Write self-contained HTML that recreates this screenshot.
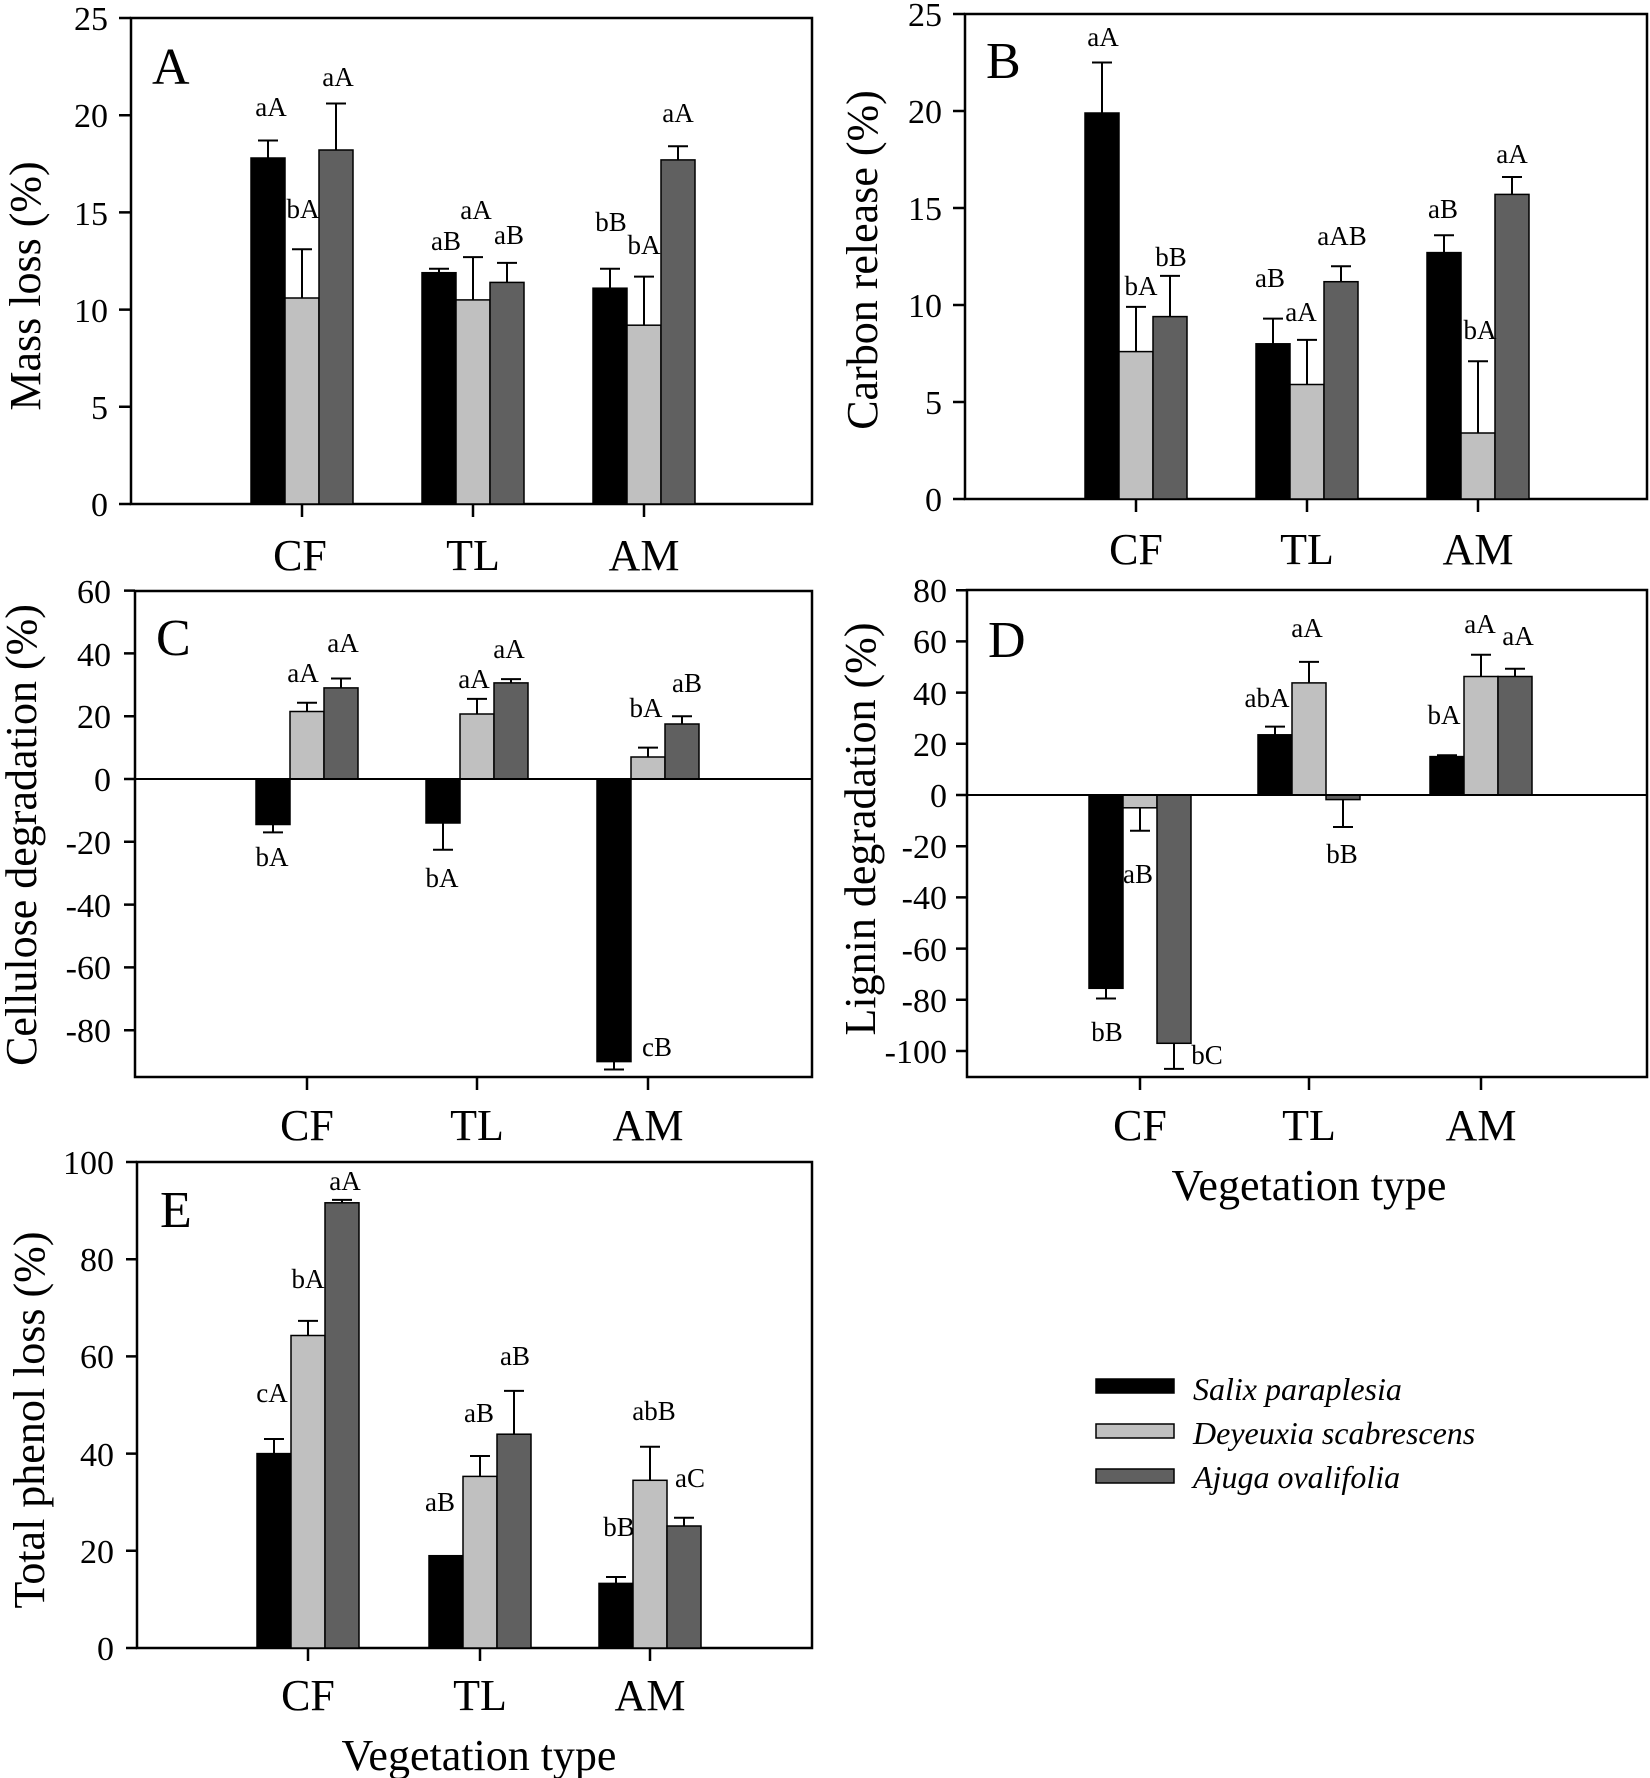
<!DOCTYPE html>
<html><head><meta charset="utf-8"><style>
html,body{margin:0;padding:0;background:#fff}
svg{display:block}
text{font-family:"Liberation Serif",serif;fill:#000}
.t{font-size:34px;text-anchor:end}
.c{font-size:44px;text-anchor:middle}
.n{font-size:27px;text-anchor:middle}
.p{font-size:52px}
.y{font-size:44px;text-anchor:middle}
.k{fill:#000;stroke:#000;stroke-width:1.5}
.l{fill:#c0c0c0;stroke:#000;stroke-width:1.5}
.d{fill:#606060;stroke:#000;stroke-width:1.5}
.e{stroke:#000;stroke-width:2;fill:none}
.ax{stroke:#000;stroke-width:2.5;fill:none}
</style></head><body>
<svg width="1650" height="1778" viewBox="0 0 1650 1778" xmlns="http://www.w3.org/2000/svg">

<!-- Panel A -->
<rect x="131" y="18" width="681" height="486" class="ax"/>
<path class="ax" d="M119 504H131M119 406.8H131M119 309.6H131M119 212.4H131M119 115.2H131M119 18H131M302 504V517M473 504V517M644 504V517"/>
<text class="t" x="108" y="516">0</text><text class="t" x="108" y="419">5</text><text class="t" x="108" y="322">10</text><text class="t" x="108" y="225">15</text><text class="t" x="108" y="127">20</text><text class="t" x="108" y="30">25</text>
<rect class="k" x="251" y="158" width="34" height="346"/><rect class="l" x="285" y="298" width="34" height="206"/><rect class="d" x="319" y="150" width="34" height="354"/>
<rect class="k" x="422" y="272.7" width="34" height="231.3"/><rect class="l" x="456" y="299.9" width="34" height="204.1"/><rect class="d" x="490" y="282.4" width="34" height="221.6"/>
<rect class="k" x="593" y="288.2" width="34" height="215.8"/><rect class="l" x="627" y="325.2" width="34" height="178.8"/><rect class="d" x="661" y="159.9" width="34" height="344.1"/>
<path class="e" d="M268 158V140.5M258 140.5H278M302 298V249.3M292 249.3H312M336 150V103.5M326 103.5H346M439 272.7V268.8M429 268.8H449M473 299.9V257.1M463 257.1H483M507 282.4V262.9M497 262.9H517M610 288.2V268.8M600 268.8H620M644 325.2V276.6M634 276.6H654M678 159.9V146.3M668 146.3H688"/>
<text class="n" x="271" y="116">aA</text><text class="n" x="303" y="218">bA</text><text class="n" x="338" y="86">aA</text>
<text class="n" x="446" y="250">aB</text><text class="n" x="476" y="219">aA</text><text class="n" x="509" y="244">aB</text>
<text class="n" x="611" y="231">bB</text><text class="n" x="644" y="254">bA</text><text class="n" x="678" y="122">aA</text>
<text class="p" x="152" y="84">A</text>
<text class="c" x="300" y="570">CF</text><text class="c" x="473" y="570">TL</text><text class="c" x="644" y="570">AM</text>
<text class="y" transform="translate(40,286) rotate(-90)">Mass loss (%)</text>

<!-- Panel B -->
<rect x="965" y="14" width="682" height="485" class="ax"/>
<path class="ax" d="M953 499H965M953 402H965M953 305H965M953 208H965M953 111H965M953 14H965M1136 499V512M1307 499V512M1478 499V512"/>
<text class="t" x="942" y="511">0</text><text class="t" x="942" y="414">5</text><text class="t" x="942" y="317">10</text><text class="t" x="942" y="220">15</text><text class="t" x="942" y="123">20</text><text class="t" x="942" y="26">25</text>
<rect class="k" x="1085" y="113" width="34" height="386"/><rect class="l" x="1119" y="351.6" width="34" height="147.4"/><rect class="d" x="1153" y="316.6" width="34" height="182.4"/>
<rect class="k" x="1256" y="343.8" width="34" height="155.2"/><rect class="l" x="1290" y="384.5" width="34" height="114.5"/><rect class="d" x="1324" y="281.7" width="34" height="217.3"/>
<rect class="k" x="1427" y="252.6" width="34" height="246.4"/><rect class="l" x="1461" y="433" width="34" height="66"/><rect class="d" x="1495" y="194.4" width="34" height="304.6"/>
<path class="e" d="M1102 113V62.5M1092 62.5H1112M1136 351.6V306.9M1126 306.9H1146M1170 316.6V275.9M1160 275.9H1180M1273 343.8V318.6M1263 318.6H1283M1307 384.5V339.9M1297 339.9H1317M1341 281.7V266.2M1331 266.2H1351M1444 252.6V235.2M1434 235.2H1454M1478 433V361.3M1468 361.3H1488M1512 194.4V177M1502 177H1522"/>
<text class="n" x="1103" y="46">aA</text><text class="n" x="1141" y="295">bA</text><text class="n" x="1171" y="266">bB</text>
<text class="n" x="1270" y="287">aB</text><text class="n" x="1301" y="321">aA</text><text class="n" x="1342" y="245">aAB</text>
<text class="n" x="1443" y="218">aB</text><text class="n" x="1480" y="339">bA</text><text class="n" x="1512" y="163">aA</text>
<text class="p" x="986" y="78">B</text>
<text class="c" x="1136" y="564">CF</text><text class="c" x="1307" y="564">TL</text><text class="c" x="1478" y="564">AM</text>
<text class="y" transform="translate(877,260) rotate(-90)">Carbon release (%)</text>

<!-- Panel C -->
<rect x="135" y="591" width="677" height="486" class="ax"/>
<path class="ax" d="M124 590.6H135M124 653.4H135M124 716.2H135M124 779H135M124 841.8H135M124 904.6H135M124 967.4H135M124 1030.2H135M307 1077V1090M477 1077V1090M648 1077V1090"/>
<text class="t" x="111" y="603">60</text><text class="t" x="111" y="666">40</text><text class="t" x="111" y="728">20</text><text class="t" x="111" y="791">0</text><text class="t" x="111" y="854">-20</text><text class="t" x="111" y="917">-40</text><text class="t" x="111" y="979">-60</text><text class="t" x="111" y="1042">-80</text>
<rect class="k" x="256" y="779" width="34" height="45.5"/><rect class="l" x="290" y="711.5" width="34" height="67.5"/><rect class="d" x="324" y="687.9" width="34" height="91.1"/>
<rect class="k" x="426" y="779" width="34" height="44"/><rect class="l" x="460" y="714" width="34" height="65"/><rect class="d" x="494" y="682.9" width="34" height="96.1"/>
<rect class="k" x="597" y="779" width="34" height="282.6"/><rect class="l" x="631" y="757" width="34" height="22"/><rect class="d" x="665" y="724" width="34" height="55"/>
<line x1="135" y1="779" x2="812" y2="779" stroke="#000" stroke-width="2"/>
<path class="e" d="M273 824.5V832.4M263 832.4H283M307 711.5V702.7M297 702.7H317M341 687.9V678.5M331 678.5H351M443 823V849.7M433 849.7H453M477 714V698.9M467 698.9H487M511 682.9V679.1M501 679.1H521M614 1061.6V1069.5M604 1069.5H624M648 757V747.6M638 747.6H658M682 724V716.2M672 716.2H692"/>
<text class="n" x="272" y="866">bA</text><text class="n" x="303" y="682">aA</text><text class="n" x="343" y="652">aA</text>
<text class="n" x="442" y="887">bA</text><text class="n" x="474" y="688">aA</text><text class="n" x="509" y="658">aA</text>
<text class="n" x="657" y="1056">cB</text><text class="n" x="646" y="717">bA</text><text class="n" x="687" y="692">aB</text>
<text class="p" x="156" y="655">C</text>
<text class="c" x="307" y="1140">CF</text><text class="c" x="477" y="1140">TL</text><text class="c" x="648" y="1140">AM</text>
<text class="y" transform="translate(36,835) rotate(-90)">Cellulose degradation (%)</text>

<!-- Panel D -->
<rect x="967" y="590" width="680" height="487" class="ax"/>
<path class="ax" d="M956 590.2H967M956 641.4H967M956 692.6H967M956 743.8H967M956 795H967M956 846.2H967M956 897.4H967M956 948.6H967M956 999.8H967M956 1051H967M1140 1077V1090M1309 1077V1090M1481 1077V1090"/>
<text class="t" x="947" y="602">80</text><text class="t" x="947" y="653">60</text><text class="t" x="947" y="705">40</text><text class="t" x="947" y="756">20</text><text class="t" x="947" y="807">0</text><text class="t" x="947" y="858">-20</text><text class="t" x="947" y="909">-40</text><text class="t" x="947" y="961">-60</text><text class="t" x="947" y="1012">-80</text><text class="t" x="947" y="1063">-100</text>
<rect class="k" x="1089" y="795" width="34" height="193.3"/><rect class="l" x="1123" y="795" width="34" height="12.8"/><rect class="d" x="1157" y="795" width="34" height="248.3"/>
<rect class="k" x="1258" y="734.8" width="34" height="60.2"/><rect class="l" x="1292" y="682.9" width="34" height="112.1"/><rect class="d" x="1326" y="795" width="34" height="4.6"/>
<rect class="k" x="1430" y="756.6" width="34" height="38.4"/><rect class="l" x="1464" y="676.5" width="34" height="118.5"/><rect class="d" x="1498" y="676.5" width="34" height="118.5"/>
<line x1="967" y1="795" x2="1647" y2="795" stroke="#000" stroke-width="2"/>
<path class="e" d="M1106 988.3V998.5M1096 998.5H1116M1140 807.8V830.8M1130 830.8H1150M1174 1043.3V1068.9M1164 1068.9H1184M1275 734.8V726.6M1265 726.6H1285M1309 682.9V661.9M1299 661.9H1319M1343 799.6V827M1333 827H1353M1447 756.6V755.3M1437 755.3H1457M1481 676.5V654.7M1471 654.7H1491M1515 676.5V668.8M1505 668.8H1525"/>
<text class="n" x="1107" y="1041">bB</text><text class="n" x="1138" y="883">aB</text><text class="n" x="1207" y="1064">bC</text>
<text class="n" x="1267" y="707">abA</text><text class="n" x="1307" y="637">aA</text><text class="n" x="1342" y="863">bB</text>
<text class="n" x="1444" y="724">bA</text><text class="n" x="1480" y="633">aA</text><text class="n" x="1518" y="645">aA</text>
<text class="p" x="988" y="657">D</text>
<text class="c" x="1140" y="1140">CF</text><text class="c" x="1309" y="1140">TL</text><text class="c" x="1481" y="1140">AM</text>
<text class="c" x="1309" y="1200">Vegetation type</text>
<text class="y" transform="translate(875,829) rotate(-90)">Lignin degradation (%)</text>

<!-- Panel E -->
<rect x="137" y="1162" width="675" height="486" class="ax"/>
<path class="ax" d="M126 1648H137M126 1550.8H137M126 1453.6H137M126 1356.4H137M126 1259.2H137M126 1162H137M308 1648V1661M480 1648V1661M650 1648V1661"/>
<text class="t" x="114" y="1660">0</text><text class="t" x="114" y="1563">20</text><text class="t" x="114" y="1466">40</text><text class="t" x="114" y="1368">60</text><text class="t" x="114" y="1271">80</text><text class="t" x="114" y="1174">100</text>
<rect class="k" x="257" y="1453.6" width="34" height="194.4"/><rect class="l" x="291" y="1335.5" width="34" height="312.5"/><rect class="d" x="325" y="1202.8" width="34" height="445.2"/>
<rect class="k" x="429" y="1555.7" width="34" height="92.3"/><rect class="l" x="463" y="1476.4" width="34" height="171.6"/><rect class="d" x="497" y="1434.2" width="34" height="213.8"/>
<rect class="k" x="599" y="1583.4" width="34" height="64.6"/><rect class="l" x="633" y="1480.3" width="34" height="167.7"/><rect class="d" x="667" y="1526" width="34" height="122"/>
<path class="e" d="M274 1453.6V1439M264 1439H284M308 1335.5V1320.9M298 1320.9H318M342 1202.8V1199.9M332 1199.9H352M480 1476.4V1456M470 1456H490M514 1434.2V1390.9M504 1390.9H524M616 1583.4V1577M606 1577H626M650 1480.3V1446.8M640 1446.8H660M684 1526V1517.8M674 1517.8H694"/>
<text class="n" x="272" y="1402">cA</text><text class="n" x="308" y="1288">bA</text><text class="n" x="345" y="1190">aA</text>
<text class="n" x="440" y="1511">aB</text><text class="n" x="479" y="1422">aB</text><text class="n" x="515" y="1365">aB</text>
<text class="n" x="619" y="1536">bB</text><text class="n" x="654" y="1420">abB</text><text class="n" x="690" y="1487">aC</text>
<text class="p" x="160" y="1227">E</text>
<text class="c" x="308" y="1710">CF</text><text class="c" x="480" y="1710">TL</text><text class="c" x="650" y="1710">AM</text>
<text class="c" x="479" y="1770">Vegetation type</text>
<text class="y" transform="translate(44,1420) rotate(-90)">Total phenol loss (%)</text>

<!-- Legend -->
<rect class="k" x="1096" y="1379" width="78" height="14"/>
<rect class="l" x="1096" y="1424" width="78" height="14"/>
<rect class="d" x="1096" y="1469" width="78" height="14"/>
<text x="1193" y="1400" style="font-size:32px;font-style:italic">Salix paraplesia</text>
<text x="1193" y="1444" style="font-size:32px;font-style:italic">Deyeuxia scabrescens</text>
<text x="1193" y="1488" style="font-size:32px;font-style:italic">Ajuga ovalifolia</text>
</svg>
</body></html>
